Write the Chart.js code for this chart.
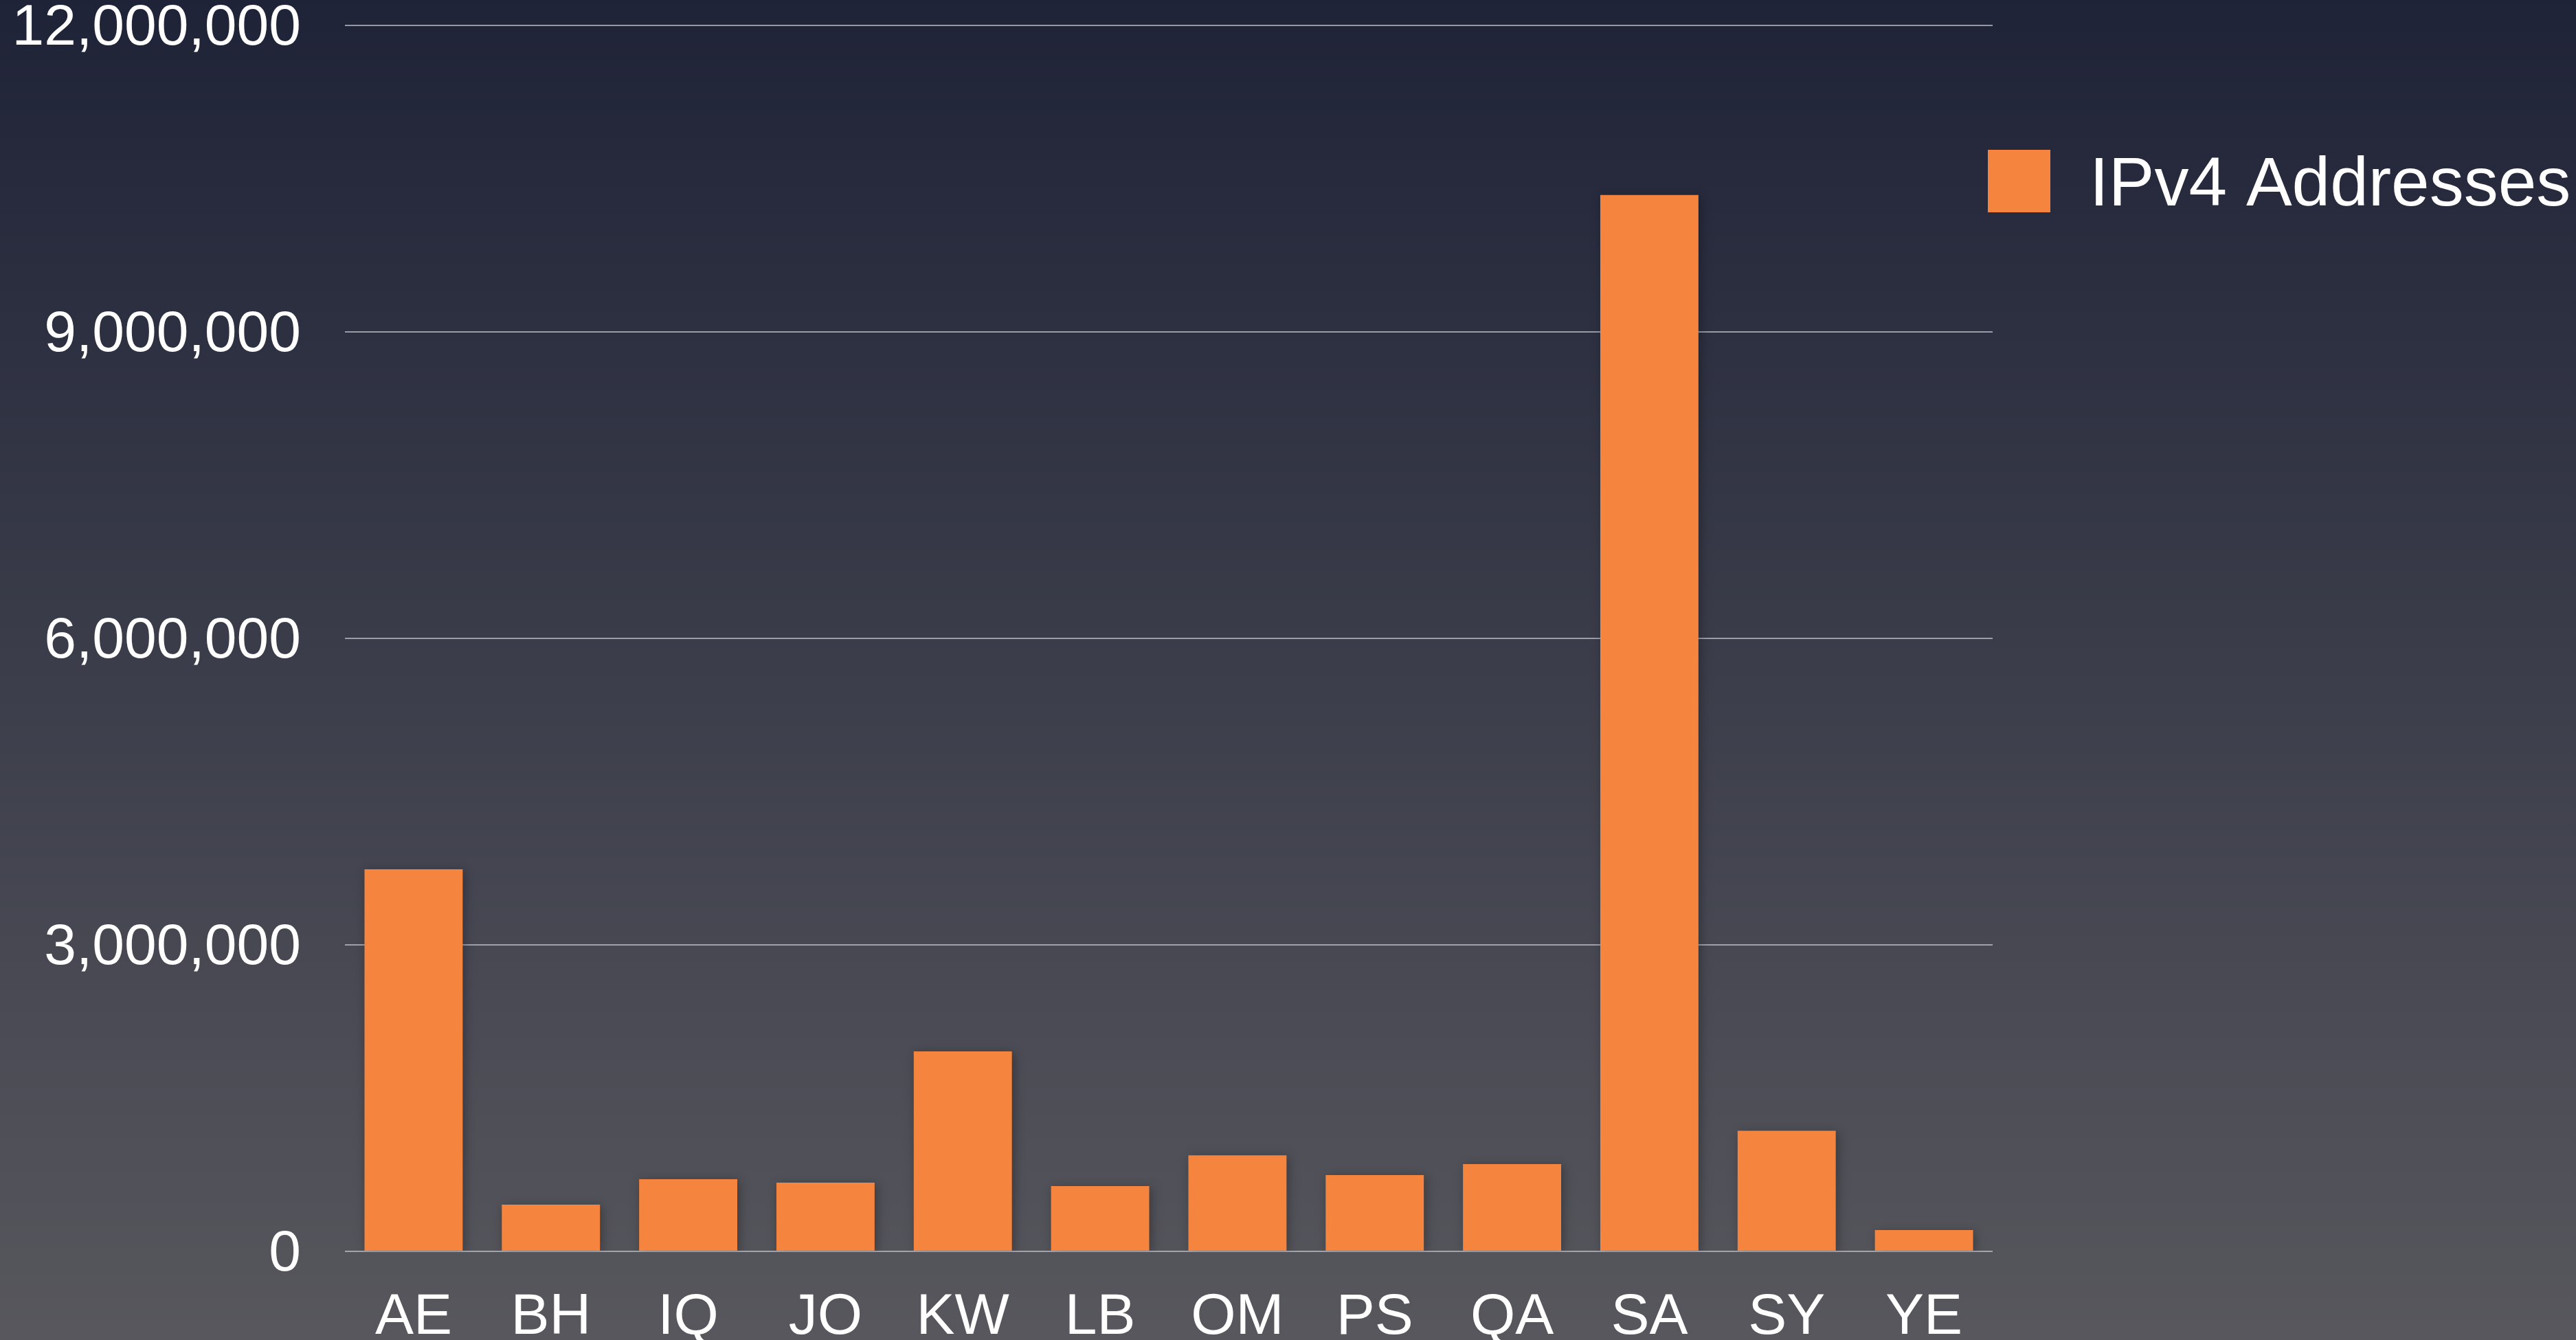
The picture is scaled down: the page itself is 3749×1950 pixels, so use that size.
<!DOCTYPE html>
<html lang="en">
<head>
  <meta charset="UTF-8">
  <title>IPv4 Addresses by Country</title>
  <script src="https://cdn.jsdelivr.net/npm/chart.js"></script>
  <style>
    html, body {
      margin: 0;
      padding: 0;
      background: #3a3c48;
    }
    canvas {
      display: block;
    }
  </style>
</head>
<body>
  <canvas id="ipChart" width="3749" height="1950"></canvas>

  <script>
    // Data
    const countries = ['AE', 'BH', 'IQ', 'JO', 'KW', 'LB', 'OM', 'PS', 'QA', 'SA', 'SY', 'YE'];
    const ipv4Counts = [3740000, 457000, 706000, 673000, 1957000, 639000, 940000, 747000, 854000, 10340000, 1180000, 209000];
    const yTicks = [0, 3000000, 6000000, 9000000, 12000000];

    const FONT = '"Liberation Sans", Arial, Helvetica, sans-serif';

    // Background gradient over the whole canvas
    const backgroundPlugin = {
      id: 'bgGradient',
      beforeDraw(chart) {
        const ctx = chart.ctx;
        const g = ctx.createLinearGradient(0, 0, 0, chart.height);
        g.addColorStop(0, '#1f2337');
        g.addColorStop(1, '#57575d');
        ctx.save();
        ctx.fillStyle = g;
        ctx.fillRect(0, 0, chart.width, chart.height);
        ctx.restore();
      }
    };

    // Soft drop shadow behind bars
    const barShadowPlugin = {
      id: 'barShadow',
      beforeDatasetsDraw(chart) {
        const ctx = chart.ctx;
        ctx.save();
        ctx.shadowColor = 'rgba(0, 0, 0, 0.3)';
        ctx.shadowBlur = 14;
        ctx.shadowOffsetX = 3;
        ctx.shadowOffsetY = 3;
      },
      afterDatasetsDraw(chart) {
        chart.ctx.restore();
      }
    };

    // Legend placed to the right of the plot, like the original
    const sideLegendPlugin = {
      id: 'sideLegend',
      afterDraw(chart) {
        const ctx = chart.ctx;
        const ds = chart.data.datasets[0];
        const boxX = chart.chartArea.right - 7;
        const boxY = 218;
        const boxSize = 91;
        ctx.save();
        ctx.fillStyle = ds.backgroundColor;
        ctx.fillRect(boxX, boxY, boxSize, boxSize);
        ctx.fillStyle = '#ffffff';
        ctx.font = '100px ' + FONT;
        ctx.textAlign = 'left';
        ctx.textBaseline = 'alphabetic';
        ctx.fillText(ds.label, boxX + 148, 299);
        ctx.restore();
      }
    };

    const ctx = document.getElementById('ipChart').getContext('2d');

    new Chart(ctx, {
      type: 'bar',
      data: {
        labels: countries,
        datasets: [{
          label: 'IPv4 Addresses',
          data: ipv4Counts,
          backgroundColor: '#f4843e',
          borderWidth: 0,
          barPercentage: 0.715,
          categoryPercentage: 1.0
        }]
      },
      options: {
        responsive: false,
        animation: false,
        devicePixelRatio: 1,
        layout: {
          padding: { top: 37, right: 849, bottom: 0, left: 0 }
        },
        plugins: {
          legend: { display: false },
          tooltip: { enabled: false }
        },
        scales: {
          x: {
            grid: { display: false, drawTicks: false },
            border: { display: false },
            ticks: {
              color: '#ffffff',
              font: { family: FONT, size: 84, lineHeight: 1.2 },
              padding: 46,
              maxRotation: 0,
              autoSkip: false
            },
            afterFit(scale) {
              scale.height = 129;
              scale.paddingLeft = 0;
              scale.paddingRight = 0;
            }
          },
          y: {
            min: 0,
            max: 12000000,
            afterBuildTicks(scale) {
              scale.ticks = yTicks.map(v => ({ value: v }));
            },
            grid: {
              color: 'rgba(190, 192, 200, 0.75)',
              lineWidth: 2,
              drawTicks: false
            },
            border: { display: false },
            ticks: {
              color: '#ffffff',
              font: { family: FONT, size: 84, lineHeight: 1.2 },
              padding: 64,
              labelOffset: 5,
              callback: v => Number(v).toLocaleString('en-US')
            },
            afterFit(scale) {
              scale.width = 502;
              scale.paddingTop = 0;
              scale.paddingBottom = 0;
            }
          }
        }
      },
      plugins: [backgroundPlugin, barShadowPlugin, sideLegendPlugin]
    });
  </script>
</body>
</html>
